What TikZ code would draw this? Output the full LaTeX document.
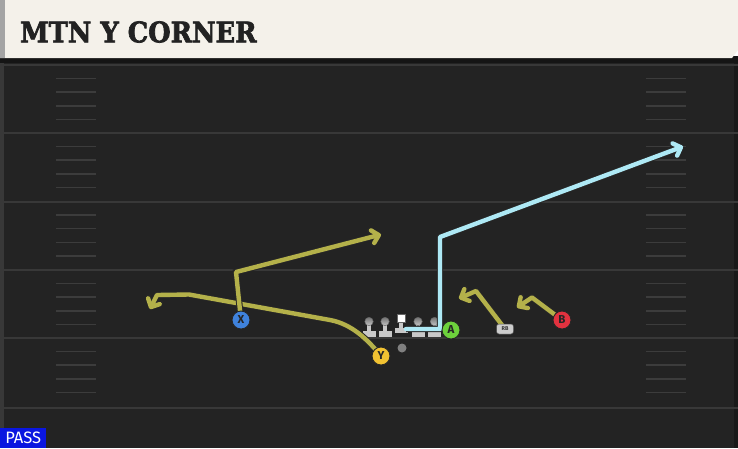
\documentclass[tikz,border=0pt]{standalone}
\usepackage{fontspec}
\setmainfont{Fira Sans}
\newfontfamily\titlefont{DejaVu Serif}[BoldFeatures={FakeBold=2.5}]
\usetikzlibrary{arrows.meta}
\definecolor{fieldbg}{HTML}{232323}
\definecolor{headbg}{HTML}{F4F1EA}
\definecolor{headedge}{HTML}{A4A4A4}
\definecolor{shadowc}{HTML}{151515}
\definecolor{yardline}{HTML}{383838}
\definecolor{hashc}{HTML}{3C3C3C}
\definecolor{olive}{HTML}{B4B14A}
\definecolor{skyroute}{HTML}{AEE9F5}
\definecolor{xblue}{HTML}{3F82DC}
\definecolor{yyellow}{HTML}{F1C232}
\definecolor{agreen}{HTML}{6DD13C}
\definecolor{bred}{HTML}{E2323F}
\definecolor{linemanc}{HTML}{C8C8C8}
\definecolor{passblue}{HTML}{0A16E0}
\definecolor{titlec}{HTML}{222222}
\pgfdeclarelayer{field}
\pgfdeclarelayer{routes}
\pgfsetlayers{field,routes,main}
\begin{document}
\begin{tikzpicture}[x=1pt,y=-1pt,
  player/.style={circle, draw=black!85, line width=0.9pt, minimum size=18pt, inner sep=0pt,
    font=\bfseries\fontsize{11.5}{11.5}\selectfont, text=black!85},
  route/.style={line width=4.4pt, line join=round, line cap=round,
    -{Straight Barb[length=6.5pt,width=13pt,line cap=round,line join=round]},
    preaction={draw=black!85, line width=6.4pt}},
  olive route/.style={route, draw=olive},
  sky route/.style={route, draw=skyroute},
  yard/.style={draw=yardline, line width=2pt},
  hash/.style={draw=hashc, line width=1.5pt},
  lmhead/.style={circle, top color=black!55, bottom color=linemanc, draw=black!60, line width=0.4pt, minimum size=8.5pt, inner sep=0pt},
  centersq/.style={rectangle, fill=white, draw=black!60, line width=0.4pt, minimum size=8.5pt, inner sep=0pt},
  rbbox/.style={rectangle, rounded corners=2.5pt, fill=linemanc!90!white, draw=black!70, line width=0.5pt,
    minimum width=17pt, minimum height=10pt, inner sep=0pt, font=\bfseries\fontsize{5.5}{5.5}\selectfont, text=black!80},
  qbdot/.style={circle, fill=black!50, minimum size=9pt, inner sep=0pt}
]
\useasboundingbox (0,0) rectangle (738,448);
\begin{pgfonlayer}{field}
  % field
  \fill[fieldbg] (0,58) rectangle (738,448);
  \fill[black!78] (0,58) rectangle (4,448);
  \fill[black!90] (734,58) rectangle (738,448);
  % header
  \fill[shadowc] (0,56) rectangle (738,63);
  \fill[headbg] (0,0) -- (738,0) -- (738,50) -- (732,58) -- (0,58) -- cycle;
  \fill[headedge] (0,0) rectangle (5,58);
  % yard lines
  \foreach \yy in {65,133,201.5,270,338,408}{
    \draw[yard] (0,\yy) -- (738,\yy);
  }
  \foreach \yy in {65,133,201.5,270,338}{
    \foreach \k in {1,2,3,4}{
      \draw[hash] (56,\yy+13.6*\k) -- (96,\yy+13.6*\k);
      \draw[hash] (646,\yy+13.6*\k) -- (686,\yy+13.6*\k);
    }
  }
  % linemen
  \foreach \lx/\nm in {369/L1,385/L2,418/L4,434.5/L5}{
    \fill[linemanc] (\lx-6.5,331) rectangle (\lx+6.5,336.5);
    \fill[linemanc] (\lx-2,322) rectangle (\lx+2,331);
    \node[lmhead] (\nm) at (\lx,321.5) {};
  }
  \fill[linemanc] (394.5,328) rectangle (407.5,333);
  \fill[linemanc] (399,322) rectangle (403,328.5);
  \node[centersq] (C) at (401,318) {};
\end{pgfonlayer}

% title and label
\node[anchor=base west, inner sep=0pt, text=titlec] (title) at (20,42.3)
  {\scalebox{0.91}[1]{\titlefont\bfseries\fontsize{28.3}{30}\selectfont MTN Y CORNER}};
\node[fill=passblue, anchor=south west, minimum width=46pt, minimum height=20pt, inner sep=0pt,
  text=white, font=\fontsize{16.5}{16.5}\selectfont] (pass) at (0,448) {PASS};

% players
\node[player, fill=xblue] (X) at (241,320) {X};
\node[player, fill=yyellow] (Y) at (381,356) {Y};
\node[player, fill=agreen] (A) at (451,330) {A};
\node[player, fill=bred] (B) at (562,320) {B};
\node[rbbox] (RB) at (505,329) {RB};
\node[qbdot] (QB) at (402,348) {};

% route points
\coordinate (y1) at (330,320);
\coordinate (y2) at (189,294.5);
\coordinate (y3) at (157,295);
\coordinate (y4) at (150,309);
\coordinate (x1) at (236,272);
\coordinate (x2) at (381,234.5);
\coordinate (s0) at (406,329);
\coordinate (s1) at (440,329);
\coordinate (s2) at (440,237);
\coordinate (s3) at (683,146.5);
\coordinate (r1) at (476,291);
\coordinate (r2) at (459,298.5);
\coordinate (b1) at (532,297.5);
\coordinate (b2) at (517,307.5);

\begin{pgfonlayer}{routes}
  \draw[olive route] (Y.center) .. controls (368,340) and (352,324) .. (y1) -- (y2) -- (y3) -- (y4);
  \draw[olive route] (X.center) -- (x1) -- (x2);
  \draw[sky route] (s0) -- (s1) -- (s2) -- (s3);
  \draw[olive route] (RB.center) -- (r1) -- (r2);
  \draw[olive route] (B.center) -- (b1) -- (b2);
\end{pgfonlayer}
\end{tikzpicture}
\end{document}
